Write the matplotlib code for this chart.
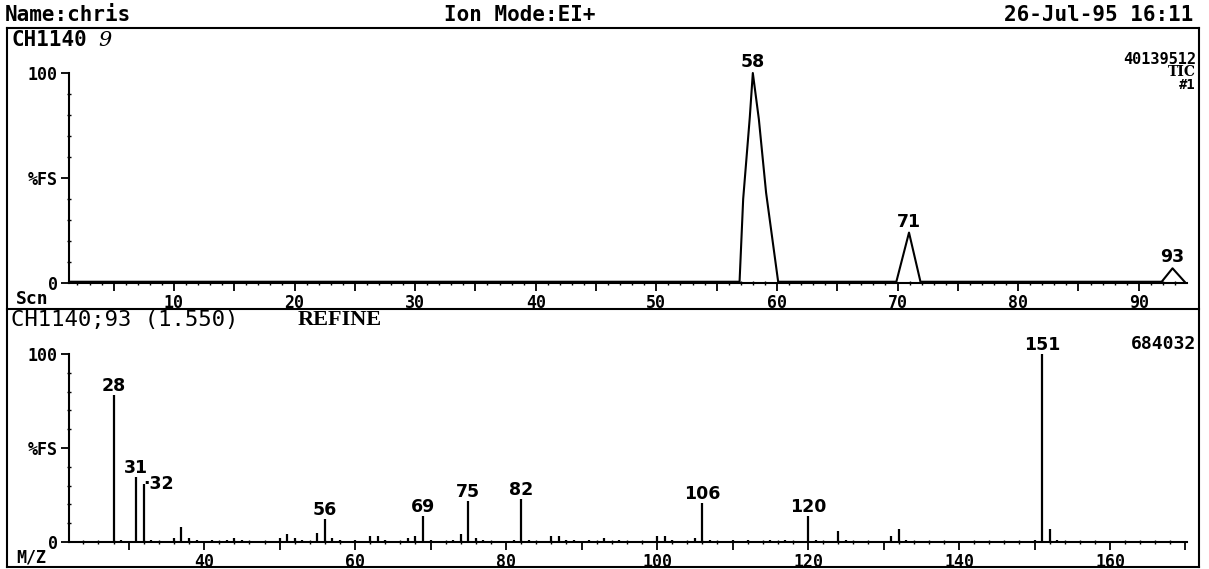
"""TIC trace + refined mass spectrum, old instrument printout style
"""
import matplotlib
matplotlib.use("Agg")
import matplotlib.pyplot as plt
from matplotlib.lines import Line2D

W, H = 1209, 569

# top panel: total ion current trace (scan number, %FS)
tic_scan = [1.3, 56.9, 57.2, 57.75, 58.0, 58.5, 59.1, 60.1,
    69.9, 70.95, 71.9, 91.9, 92.8, 93.8]
tic_pct = [0.6, 0.6, 40, 79, 100, 78, 43, 0.6,
    0.6, 24, 0.6, 0.6, 7, 0.6]
tic_label_scan = [58.0, 70.95, 92.8]
tic_label_pct = [100, 24, 7]
tic_label_text = ["58", "71", "93"]

# bottom panel: spectrum of scan 93 (m/z, %FS)
mz = [28, 29, 31, 32, 33, 36, 37, 38, 39, 41, 43, 44, 45, 50, 51, 52, 53,
    55, 56, 57, 58, 60, 62, 63, 64, 67, 68, 69, 70, 73, 74, 75, 76, 77,
    81, 82, 83, 86, 87, 88, 89, 91, 93, 95, 100, 101, 102, 105, 106, 107,
    110, 112, 115, 117, 120, 121, 124, 125, 131, 132, 133, 150, 151, 152, 153]
intensity = [78, 1, 34.5, 31, 1, 2, 8, 2, 1, 1, 1, 2, 1, 2, 4, 2, 1,
    5, 12, 2, 1, 1, 3, 3, 1, 2, 3, 14, 1, 1, 4, 22, 2, 1,
    1, 23, 1, 3, 3, 1, 1, 1, 2, 1, 3, 3, 1, 2, 21, 1,
    1, 1, 1, 1, 14, 1, 6, 1, 3, 7, 1, 1, 100, 7, 1]
labelled_mz = [28, 31, 56, 69, 75, 82, 106, 120, 151]

plt.rcParams["font.family"] = "DejaVu Sans Mono"
plt.rcParams["font.weight"] = "bold"
plt.rcParams["font.size"] = 12

LW = 1.5
PEAK_FONT = dict(family="DejaVu Sans", fontsize=12.5, fontweight="bold")


def px(x, y):
    return x / W, 1 - y / H


def hline(x0, x1, y):
    fig.add_artist(Line2D([x0 / W, x1 / W], [1 - y / H, 1 - y / H],
        transform=fig.transFigure, color="black", linewidth=LW))


def vline(x, y0, y1):
    fig.add_artist(Line2D([x / W, x / W], [1 - y0 / H, 1 - y1 / H],
        transform=fig.transFigure, color="black", linewidth=LW))


def style_axes(ax, major, minor, labelled_every):
    for side in ["top", "right"]:
        ax.spines[side].set_visible(False)
    for side in ["left", "bottom"]:
        ax.spines[side].set_linewidth(LW)
    ax.set_xticks(major)
    ax.set_xticklabels(["" if m % labelled_every else str(m) for m in major])
    ax.set_xticks(minor, minor=True)
    ax.set_yticks([0, 50, 100])
    ax.set_yticklabels(["0", "%FS", "100"])
    ax.set_yticks(range(10, 100, 10), minor=True)
    ax.tick_params(which="major", direction="out", length=6, width=1.3, pad=2)
    ax.tick_params(which="minor", direction="inout", length=3, width=1)
    ax.set_ylim(0, 100)


fig = plt.figure(figsize=(W / 100, H / 100), dpi=100)

# ---- top panel
ax1 = fig.add_axes([69 / W, 1 - 283 / H, 1118 / W, 210 / H])
ax1.plot(tic_scan, tic_pct, color="black", linewidth=LW, clip_on=False)
for s, p, t in zip(tic_label_scan, tic_label_pct, tic_label_text):
    ax1.text(s, p + 1, t, ha="center", va="bottom", **PEAK_FONT)
ax1.set_xlim(1.3, 94.0)
style_axes(ax1, list(range(5, 95, 5)), list(range(2, 94)), 10)

# ---- bottom panel
ax2 = fig.add_axes([69 / W, 1 - 542 / H, 1118 / W, 188 / H])
ax2.vlines(mz, 0, intensity, color="black", linewidth=1.6)
for m, h in zip(mz, intensity):
    if m in labelled_mz:
        ax2.text(m, h, str(m), ha="center", va="bottom", **PEAK_FONT)
    elif m == 32:
        ax2.text(m, h, "\u00b732", ha="left", va="center", **PEAK_FONT)
ax2.set_xlim(22.1, 170.2)
style_axes(ax2, list(range(30, 171, 10)), list(range(24, 171, 2)), 20)

# ---- frame and header texts
hline(7, 1199, 28)
hline(7, 1199, 309)
hline(7, 1199, 567)
vline(7, 28, 567)
vline(1199, 28, 567)

fig.text(*px(5, 15), "Name:chris", fontsize=15, va="center", ha="left")
fig.text(*px(520, 15), "Ion Mode:EI+", fontsize=15, va="center", ha="center")
fig.text(*px(1193, 15), "26-Jul-95 16:11", fontsize=15, va="center", ha="right")

fig.text(*px(11, 40), "CH1140", fontsize=15, va="center", ha="left")
fig.text(*px(98, 41), "9", family="DejaVu Serif", style="italic",
    fontweight="light", fontsize=15, va="center", ha="left")
fig.text(*px(1196, 59), "40139512", fontsize=11, va="center", ha="right")
fig.text(*px(1196, 72), "TIC", family="DejaVu Serif", fontsize=10,
    va="center", ha="right")
fig.text(*px(1196, 85), "#1", fontsize=10, va="center", ha="right")
fig.text(*px(16, 299), "Scn", fontsize=13, va="center", ha="left")

fig.text(*px(11, 320), "CH1140;93 (1.550)", fontsize=16, fontweight="normal",
    va="center", ha="left")
fig.text(*px(298, 320), "REFINE", family="Liberation Serif", fontsize=16,
    va="center", ha="left")
fig.text(*px(1196, 344), "684032", fontsize=13, va="center", ha="right")
fig.text(*px(16, 558), "M/Z", fontsize=12, va="center", ha="left")

plt.savefig("out.png", dpi=100)
plt.close()
